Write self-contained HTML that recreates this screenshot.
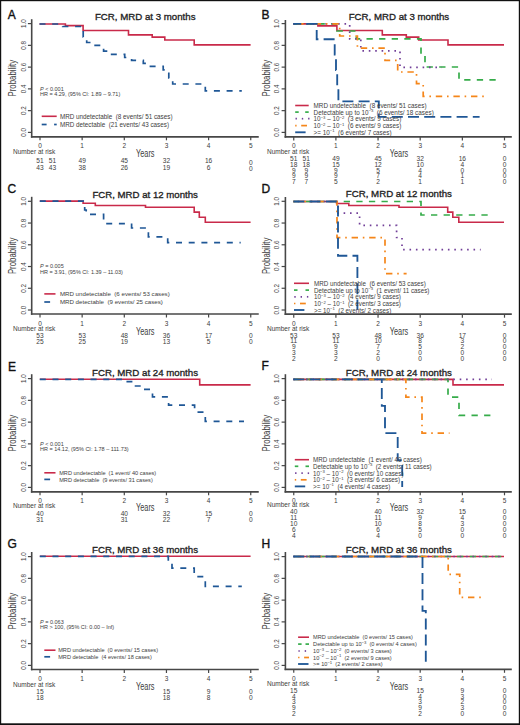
<!DOCTYPE html>
<html><head><meta charset="utf-8"><style>
html,body{margin:0;padding:0;background:#fff;}
svg{display:block;font-family:"Liberation Sans",sans-serif;}
</style></head><body>
<svg width="520" height="725" viewBox="0 0 520 725">
<rect x="0" y="0" width="520" height="725" fill="#fff"/>
<line x1="31.70" y1="19.20" x2="31.70" y2="137.60" stroke="#474747" stroke-width="1.6" />
<line x1="30.90" y1="136.80" x2="258.75" y2="136.80" stroke="#474747" stroke-width="1.7" />
<line x1="27.90" y1="23.60" x2="31.70" y2="23.60" stroke="#474747" stroke-width="1.2" />
<text x="23.40" y="23.60" font-size="6.3" text-anchor="middle" fill="#3d3d3d" transform="rotate(-90 23.40 23.60)" dy="2.2">1.0</text>
<line x1="27.90" y1="45.36" x2="31.70" y2="45.36" stroke="#474747" stroke-width="1.2" />
<text x="23.40" y="45.36" font-size="6.3" text-anchor="middle" fill="#3d3d3d" transform="rotate(-90 23.40 45.36)" dy="2.2">0.8</text>
<line x1="27.90" y1="67.12" x2="31.70" y2="67.12" stroke="#474747" stroke-width="1.2" />
<text x="23.40" y="67.12" font-size="6.3" text-anchor="middle" fill="#3d3d3d" transform="rotate(-90 23.40 67.12)" dy="2.2">0.6</text>
<line x1="27.90" y1="88.88" x2="31.70" y2="88.88" stroke="#474747" stroke-width="1.2" />
<text x="23.40" y="88.88" font-size="6.3" text-anchor="middle" fill="#3d3d3d" transform="rotate(-90 23.40 88.88)" dy="2.2">0.4</text>
<line x1="27.90" y1="110.64" x2="31.70" y2="110.64" stroke="#474747" stroke-width="1.2" />
<text x="23.40" y="110.64" font-size="6.3" text-anchor="middle" fill="#3d3d3d" transform="rotate(-90 23.40 110.64)" dy="2.2">0.2</text>
<line x1="27.90" y1="132.40" x2="31.70" y2="132.40" stroke="#474747" stroke-width="1.2" />
<text x="23.40" y="132.40" font-size="6.3" text-anchor="middle" fill="#3d3d3d" transform="rotate(-90 23.40 132.40)" dy="2.2">0.0</text>
<line x1="40.00" y1="136.80" x2="40.00" y2="140.30" stroke="#474747" stroke-width="1.2" />
<text x="40.00" y="148.14" font-size="6.5" text-anchor="middle" font-weight="normal" fill="#3d3d3d" >0</text>
<line x1="82.15" y1="136.80" x2="82.15" y2="140.30" stroke="#474747" stroke-width="1.2" />
<text x="82.15" y="148.14" font-size="6.5" text-anchor="middle" font-weight="normal" fill="#3d3d3d" >1</text>
<line x1="124.30" y1="136.80" x2="124.30" y2="140.30" stroke="#474747" stroke-width="1.2" />
<text x="124.30" y="148.14" font-size="6.5" text-anchor="middle" font-weight="normal" fill="#3d3d3d" >2</text>
<line x1="166.45" y1="136.80" x2="166.45" y2="140.30" stroke="#474747" stroke-width="1.2" />
<text x="166.45" y="148.14" font-size="6.5" text-anchor="middle" font-weight="normal" fill="#3d3d3d" >3</text>
<line x1="208.60" y1="136.80" x2="208.60" y2="140.30" stroke="#474747" stroke-width="1.2" />
<text x="208.60" y="148.14" font-size="6.5" text-anchor="middle" font-weight="normal" fill="#3d3d3d" >4</text>
<line x1="250.75" y1="136.80" x2="250.75" y2="140.30" stroke="#474747" stroke-width="1.2" />
<text x="250.75" y="148.14" font-size="6.5" text-anchor="middle" font-weight="normal" fill="#3d3d3d" >5</text>
<text x="12.50" y="78.20" font-size="10.5" text-anchor="middle" fill="#3d3d3d" transform="rotate(-90 12.50 78.20)" dy="3.6" textLength="36.5" lengthAdjust="spacingAndGlyphs">Probability</text>
<text x="7.70" y="18.88" font-size="12" text-anchor="start" font-weight="normal" fill="#111" stroke="#111" stroke-width="0.35">A</text>
<text x="94.90" y="19.87" font-size="9.8" font-weight="normal" fill="#222" stroke="#222" stroke-width="0.32" textLength="100.60" lengthAdjust="spacingAndGlyphs">FCR, MRD at 3 months</text>
<text x="145.25" y="157.15" font-size="10.5" text-anchor="middle" fill="#3d3d3d" textLength="18.5" lengthAdjust="spacingAndGlyphs">Years</text>
<text x="13.00" y="154.24" font-size="6.5" text-anchor="start" font-weight="normal" fill="#3d3d3d" >Number at risk</text>
<text x="40.00" y="163.17" font-size="6.6" text-anchor="middle" font-weight="normal" fill="#3d3d3d" >51</text>
<text x="52.52" y="163.17" font-size="6.6" text-anchor="middle" font-weight="normal" fill="#3d3d3d" >51</text>
<text x="82.15" y="163.17" font-size="6.6" text-anchor="middle" font-weight="normal" fill="#3d3d3d" >49</text>
<text x="124.30" y="163.17" font-size="6.6" text-anchor="middle" font-weight="normal" fill="#3d3d3d" >45</text>
<text x="166.45" y="163.17" font-size="6.6" text-anchor="middle" font-weight="normal" fill="#3d3d3d" >32</text>
<text x="208.60" y="163.17" font-size="6.6" text-anchor="middle" font-weight="normal" fill="#3d3d3d" >16</text>
<text x="250.75" y="164.97" font-size="6.6" text-anchor="middle" font-weight="normal" fill="#3d3d3d" >0</text>
<text x="40.00" y="169.67" font-size="6.6" text-anchor="middle" font-weight="normal" fill="#3d3d3d" >43</text>
<text x="52.52" y="169.67" font-size="6.6" text-anchor="middle" font-weight="normal" fill="#3d3d3d" >43</text>
<text x="82.15" y="169.67" font-size="6.6" text-anchor="middle" font-weight="normal" fill="#3d3d3d" >38</text>
<text x="124.30" y="169.67" font-size="6.6" text-anchor="middle" font-weight="normal" fill="#3d3d3d" >26</text>
<text x="166.45" y="169.67" font-size="6.6" text-anchor="middle" font-weight="normal" fill="#3d3d3d" >19</text>
<text x="208.60" y="169.67" font-size="6.6" text-anchor="middle" font-weight="normal" fill="#3d3d3d" >6</text>
<text x="250.75" y="171.47" font-size="6.6" text-anchor="middle" font-weight="normal" fill="#3d3d3d" >0</text>
<path d="M39.50,24.00 H65.40 V25.60 H83.10 V30.50 H128.50 V34.90 H152.20 V37.10 H164.80 V40.00 H194.20 V44.90 H250.60" fill="none" stroke="#c92a4a" stroke-width="1.6"/>
<path d="M39.50,24.00 H62.70 V26.50 H83.20 V37.00 H86.70 V42.50 H94.00 V45.40 H103.60 V51.10 H110.00 V54.30 H124.70 V57.50 H131.60 V60.40 H143.30 V63.30 H146.00 V66.30 H163.20 V69.90 H168.80 V78.00 H172.70 V84.00 H205.30 V90.90 H241.80" fill="none" stroke="#1f5796" stroke-width="1.7" stroke-dasharray="6 6.7" stroke-dashoffset="0"/>
<line x1="41.70" y1="116.30" x2="56.70" y2="116.30" stroke="#c92a4a" stroke-width="1.6" />
<text x="59.90" y="118.82" font-size="6.32" fill="#3d3d3d" xml:space="preserve">MRD undetectable  (8 events/ 51 cases)</text>
<line x1="41.70" y1="124.50" x2="46.60" y2="124.50" stroke="#1f5796" stroke-width="1.7" />
<line x1="54.10" y1="124.50" x2="56.70" y2="124.50" stroke="#1f5796" stroke-width="1.7" />
<text x="59.90" y="127.02" font-size="6.32" fill="#3d3d3d" xml:space="preserve">MRD detectable  (21 events/ 43 cases)</text>
<text x="40.00" y="90.89" font-size="5.5" fill="#3d3d3d"><tspan font-style="italic">P</tspan> &lt; 0.001</text>
<text x="40.00" y="96.09" font-size="5.5" text-anchor="start" font-weight="normal" fill="#3d3d3d" >HR = 4.29, (95% CI: 1.89 – 9.71)</text>
<line x1="285.40" y1="20.00" x2="285.40" y2="137.70" stroke="#474747" stroke-width="1.6" />
<line x1="284.60" y1="136.90" x2="511.80" y2="136.90" stroke="#474747" stroke-width="1.7" />
<line x1="281.60" y1="23.60" x2="285.40" y2="23.60" stroke="#474747" stroke-width="1.2" />
<text x="277.10" y="23.60" font-size="6.3" text-anchor="middle" fill="#3d3d3d" transform="rotate(-90 277.10 23.60)" dy="2.2">1.0</text>
<line x1="281.60" y1="45.36" x2="285.40" y2="45.36" stroke="#474747" stroke-width="1.2" />
<text x="277.10" y="45.36" font-size="6.3" text-anchor="middle" fill="#3d3d3d" transform="rotate(-90 277.10 45.36)" dy="2.2">0.8</text>
<line x1="281.60" y1="67.12" x2="285.40" y2="67.12" stroke="#474747" stroke-width="1.2" />
<text x="277.10" y="67.12" font-size="6.3" text-anchor="middle" fill="#3d3d3d" transform="rotate(-90 277.10 67.12)" dy="2.2">0.6</text>
<line x1="281.60" y1="88.88" x2="285.40" y2="88.88" stroke="#474747" stroke-width="1.2" />
<text x="277.10" y="88.88" font-size="6.3" text-anchor="middle" fill="#3d3d3d" transform="rotate(-90 277.10 88.88)" dy="2.2">0.4</text>
<line x1="281.60" y1="110.64" x2="285.40" y2="110.64" stroke="#474747" stroke-width="1.2" />
<text x="277.10" y="110.64" font-size="6.3" text-anchor="middle" fill="#3d3d3d" transform="rotate(-90 277.10 110.64)" dy="2.2">0.2</text>
<line x1="281.60" y1="132.40" x2="285.40" y2="132.40" stroke="#474747" stroke-width="1.2" />
<text x="277.10" y="132.40" font-size="6.3" text-anchor="middle" fill="#3d3d3d" transform="rotate(-90 277.10 132.40)" dy="2.2">0.0</text>
<line x1="293.75" y1="136.90" x2="293.75" y2="140.40" stroke="#474747" stroke-width="1.2" />
<text x="293.75" y="148.14" font-size="6.5" text-anchor="middle" font-weight="normal" fill="#3d3d3d" >0</text>
<line x1="335.90" y1="136.90" x2="335.90" y2="140.40" stroke="#474747" stroke-width="1.2" />
<text x="335.90" y="148.14" font-size="6.5" text-anchor="middle" font-weight="normal" fill="#3d3d3d" >1</text>
<line x1="378.05" y1="136.90" x2="378.05" y2="140.40" stroke="#474747" stroke-width="1.2" />
<text x="378.05" y="148.14" font-size="6.5" text-anchor="middle" font-weight="normal" fill="#3d3d3d" >2</text>
<line x1="420.20" y1="136.90" x2="420.20" y2="140.40" stroke="#474747" stroke-width="1.2" />
<text x="420.20" y="148.14" font-size="6.5" text-anchor="middle" font-weight="normal" fill="#3d3d3d" >3</text>
<line x1="462.35" y1="136.90" x2="462.35" y2="140.40" stroke="#474747" stroke-width="1.2" />
<text x="462.35" y="148.14" font-size="6.5" text-anchor="middle" font-weight="normal" fill="#3d3d3d" >4</text>
<line x1="504.50" y1="136.90" x2="504.50" y2="140.40" stroke="#474747" stroke-width="1.2" />
<text x="504.50" y="148.14" font-size="6.5" text-anchor="middle" font-weight="normal" fill="#3d3d3d" >5</text>
<text x="266.20" y="78.20" font-size="10.5" text-anchor="middle" fill="#3d3d3d" transform="rotate(-90 266.20 78.20)" dy="3.6" textLength="36.5" lengthAdjust="spacingAndGlyphs">Probability</text>
<text x="261.60" y="18.83" font-size="12" text-anchor="start" font-weight="normal" fill="#111" stroke="#111" stroke-width="0.35">B</text>
<text x="348.70" y="19.87" font-size="9.8" font-weight="normal" fill="#222" stroke="#222" stroke-width="0.32" textLength="100.50" lengthAdjust="spacingAndGlyphs">FCR, MRD at 3 months</text>
<text x="399.00" y="157.15" font-size="10.5" text-anchor="middle" fill="#3d3d3d" textLength="18.5" lengthAdjust="spacingAndGlyphs">Years</text>
<text x="267.00" y="154.24" font-size="6.5" text-anchor="start" font-weight="normal" fill="#3d3d3d" >Number at risk</text>
<text x="293.75" y="160.92" font-size="6.6" text-anchor="middle" font-weight="normal" fill="#3d3d3d" >51</text>
<text x="306.27" y="160.92" font-size="6.6" text-anchor="middle" font-weight="normal" fill="#3d3d3d" >51</text>
<text x="335.90" y="160.92" font-size="6.6" text-anchor="middle" font-weight="normal" fill="#3d3d3d" >49</text>
<text x="378.05" y="160.92" font-size="6.6" text-anchor="middle" font-weight="normal" fill="#3d3d3d" >45</text>
<text x="420.20" y="160.92" font-size="6.6" text-anchor="middle" font-weight="normal" fill="#3d3d3d" >32</text>
<text x="462.35" y="160.92" font-size="6.6" text-anchor="middle" font-weight="normal" fill="#3d3d3d" >16</text>
<text x="504.50" y="160.92" font-size="6.6" text-anchor="middle" font-weight="normal" fill="#3d3d3d" >0</text>
<text x="293.75" y="166.92" font-size="6.6" text-anchor="middle" font-weight="normal" fill="#3d3d3d" >18</text>
<text x="306.27" y="166.92" font-size="6.6" text-anchor="middle" font-weight="normal" fill="#3d3d3d" >18</text>
<text x="335.90" y="166.92" font-size="6.6" text-anchor="middle" font-weight="normal" fill="#3d3d3d" >15</text>
<text x="378.05" y="166.92" font-size="6.6" text-anchor="middle" font-weight="normal" fill="#3d3d3d" >12</text>
<text x="420.20" y="166.92" font-size="6.6" text-anchor="middle" font-weight="normal" fill="#3d3d3d" >10</text>
<text x="462.35" y="166.92" font-size="6.6" text-anchor="middle" font-weight="normal" fill="#3d3d3d" >4</text>
<text x="504.50" y="166.92" font-size="6.6" text-anchor="middle" font-weight="normal" fill="#3d3d3d" >0</text>
<text x="293.75" y="172.67" font-size="6.6" text-anchor="middle" font-weight="normal" fill="#3d3d3d" >9</text>
<text x="306.27" y="172.67" font-size="6.6" text-anchor="middle" font-weight="normal" fill="#3d3d3d" >9</text>
<text x="335.90" y="172.67" font-size="6.6" text-anchor="middle" font-weight="normal" fill="#3d3d3d" >9</text>
<text x="378.05" y="172.67" font-size="6.6" text-anchor="middle" font-weight="normal" fill="#3d3d3d" >5</text>
<text x="420.20" y="172.67" font-size="6.6" text-anchor="middle" font-weight="normal" fill="#3d3d3d" >4</text>
<text x="462.35" y="172.67" font-size="6.6" text-anchor="middle" font-weight="normal" fill="#3d3d3d" >0</text>
<text x="504.50" y="172.67" font-size="6.6" text-anchor="middle" font-weight="normal" fill="#3d3d3d" >0</text>
<text x="293.75" y="178.42" font-size="6.6" text-anchor="middle" font-weight="normal" fill="#3d3d3d" >9</text>
<text x="306.27" y="178.42" font-size="6.6" text-anchor="middle" font-weight="normal" fill="#3d3d3d" >9</text>
<text x="335.90" y="178.42" font-size="6.6" text-anchor="middle" font-weight="normal" fill="#3d3d3d" >9</text>
<text x="378.05" y="178.42" font-size="6.6" text-anchor="middle" font-weight="normal" fill="#3d3d3d" >7</text>
<text x="420.20" y="178.42" font-size="6.6" text-anchor="middle" font-weight="normal" fill="#3d3d3d" >4</text>
<text x="462.35" y="178.42" font-size="6.6" text-anchor="middle" font-weight="normal" fill="#3d3d3d" >1</text>
<text x="504.50" y="178.42" font-size="6.6" text-anchor="middle" font-weight="normal" fill="#3d3d3d" >0</text>
<text x="293.75" y="184.42" font-size="6.6" text-anchor="middle" font-weight="normal" fill="#3d3d3d" >7</text>
<text x="306.27" y="184.42" font-size="6.6" text-anchor="middle" font-weight="normal" fill="#3d3d3d" >7</text>
<text x="335.90" y="184.42" font-size="6.6" text-anchor="middle" font-weight="normal" fill="#3d3d3d" >5</text>
<text x="378.05" y="184.42" font-size="6.6" text-anchor="middle" font-weight="normal" fill="#3d3d3d" >2</text>
<text x="420.20" y="184.42" font-size="6.6" text-anchor="middle" font-weight="normal" fill="#3d3d3d" >1</text>
<text x="462.35" y="184.42" font-size="6.6" text-anchor="middle" font-weight="normal" fill="#3d3d3d" >1</text>
<text x="504.50" y="184.42" font-size="6.6" text-anchor="middle" font-weight="normal" fill="#3d3d3d" >0</text>
<path d="M293.30,23.90 H317.90 V25.90 H336.90 V30.50 H382.30 V34.90 H406.30 V37.10 H418.70 V40.00 H448.00 V44.90 H504.00" fill="none" stroke="#c92a4a" stroke-width="1.6"/>
<path d="M293.30,23.90 H337.00 V31.00 H356.30 V38.90 H421.00 V55.00 H425.00 V67.00 H459.00 V79.80 H495.70" fill="none" stroke="#36ac4a" stroke-width="1.7" stroke-dasharray="6.3 6.3" stroke-dashoffset="0"/>
<path d="M293.30,23.90 H349.70 V38.90 H360.80 V50.80 H400.00 V67.40 H442.00" fill="none" stroke="#713f98" stroke-width="1.7" stroke-dasharray="1.6 4.8" stroke-dashoffset="0"/>
<path d="M293.30,23.90 H339.70 V36.00 H357.40 V48.20 H385.00 V60.40 H397.70 V72.00 H416.50 V83.60 H423.20 V96.40 H484.00" fill="none" stroke="#f5861a" stroke-width="1.7" stroke-dasharray="1.6 4.8 6.4 4.8" stroke-dashoffset="2.6"/>
<path d="M293.30,23.90 H316.70 V39.20 H334.70 V54.50 H336.00 V70.00 H337.20 V85.60 H338.40 V101.40 H378.80 V116.80 H479.60" fill="none" stroke="#1f5796" stroke-width="1.85" stroke-dasharray="11 5.2" stroke-dashoffset="3.0"/>
<line x1="295.20" y1="105.50" x2="308.70" y2="105.50" stroke="#c92a4a" stroke-width="1.6" />
<text x="313.60" y="108.03" font-size="6.33" fill="#3d3d3d" xml:space="preserve">MRD undetectable  (8 events/ 51 cases)</text>
<line x1="295.20" y1="112.10" x2="298.70" y2="112.10" stroke="#36ac4a" stroke-width="1.7" />
<line x1="305.20" y1="112.10" x2="308.70" y2="112.10" stroke="#36ac4a" stroke-width="1.7" />
<text x="313.60" y="114.63" font-size="6.33" fill="#3d3d3d" xml:space="preserve">Detectable up to 10<tspan font-size="4.2" dy="-2.5">−3</tspan><tspan dy="2.5">  (6 events/ 18 cases)</tspan></text>
<line x1="295.50" y1="118.70" x2="296.90" y2="118.70" stroke="#713f98" stroke-width="1.7" />
<line x1="301.80" y1="118.70" x2="303.20" y2="118.70" stroke="#713f98" stroke-width="1.7" />
<line x1="308.10" y1="118.70" x2="309.50" y2="118.70" stroke="#713f98" stroke-width="1.7" />
<text x="313.60" y="121.23" font-size="6.33" fill="#3d3d3d" xml:space="preserve">10<tspan font-size="4.2" dy="-2.5">−3</tspan><tspan dy="2.5"> – </tspan>10<tspan font-size="4.2" dy="-2.5">−2</tspan><tspan dy="2.5">  (3 events/ 9 cases)</tspan></text>
<line x1="295.20" y1="125.60" x2="296.60" y2="125.60" stroke="#f5861a" stroke-width="1.7" />
<line x1="301.20" y1="125.60" x2="307.00" y2="125.60" stroke="#f5861a" stroke-width="1.7" />
<text x="313.60" y="128.13" font-size="6.33" fill="#3d3d3d" xml:space="preserve">10<tspan font-size="4.2" dy="-2.5">−2</tspan><tspan dy="2.5"> – </tspan>10<tspan font-size="4.2" dy="-2.5">−1</tspan><tspan dy="2.5">  (6 events/ 9 cases)</tspan></text>
<line x1="295.20" y1="132.30" x2="305.60" y2="132.30" stroke="#1f5796" stroke-width="1.85" />
<text x="313.60" y="134.83" font-size="6.33" fill="#3d3d3d" xml:space="preserve">&gt;= 10<tspan font-size="4.2" dy="-2.5">−1</tspan><tspan dy="2.5">  (6 events/ 7 cases)</tspan></text>
<line x1="31.70" y1="196.80" x2="31.70" y2="314.80" stroke="#474747" stroke-width="1.6" />
<line x1="30.90" y1="314.00" x2="258.75" y2="314.00" stroke="#474747" stroke-width="1.7" />
<line x1="27.90" y1="201.30" x2="31.70" y2="201.30" stroke="#474747" stroke-width="1.2" />
<text x="23.40" y="201.30" font-size="6.3" text-anchor="middle" fill="#3d3d3d" transform="rotate(-90 23.40 201.30)" dy="2.2">1.0</text>
<line x1="27.90" y1="223.04" x2="31.70" y2="223.04" stroke="#474747" stroke-width="1.2" />
<text x="23.40" y="223.04" font-size="6.3" text-anchor="middle" fill="#3d3d3d" transform="rotate(-90 23.40 223.04)" dy="2.2">0.8</text>
<line x1="27.90" y1="244.78" x2="31.70" y2="244.78" stroke="#474747" stroke-width="1.2" />
<text x="23.40" y="244.78" font-size="6.3" text-anchor="middle" fill="#3d3d3d" transform="rotate(-90 23.40 244.78)" dy="2.2">0.6</text>
<line x1="27.90" y1="266.52" x2="31.70" y2="266.52" stroke="#474747" stroke-width="1.2" />
<text x="23.40" y="266.52" font-size="6.3" text-anchor="middle" fill="#3d3d3d" transform="rotate(-90 23.40 266.52)" dy="2.2">0.4</text>
<line x1="27.90" y1="288.26" x2="31.70" y2="288.26" stroke="#474747" stroke-width="1.2" />
<text x="23.40" y="288.26" font-size="6.3" text-anchor="middle" fill="#3d3d3d" transform="rotate(-90 23.40 288.26)" dy="2.2">0.2</text>
<line x1="27.90" y1="310.00" x2="31.70" y2="310.00" stroke="#474747" stroke-width="1.2" />
<text x="23.40" y="310.00" font-size="6.3" text-anchor="middle" fill="#3d3d3d" transform="rotate(-90 23.40 310.00)" dy="2.2">0.0</text>
<line x1="40.00" y1="314.00" x2="40.00" y2="317.50" stroke="#474747" stroke-width="1.2" />
<text x="40.00" y="325.64" font-size="6.5" text-anchor="middle" font-weight="normal" fill="#3d3d3d" >0</text>
<line x1="82.15" y1="314.00" x2="82.15" y2="317.50" stroke="#474747" stroke-width="1.2" />
<text x="82.15" y="325.64" font-size="6.5" text-anchor="middle" font-weight="normal" fill="#3d3d3d" >1</text>
<line x1="124.30" y1="314.00" x2="124.30" y2="317.50" stroke="#474747" stroke-width="1.2" />
<text x="124.30" y="325.64" font-size="6.5" text-anchor="middle" font-weight="normal" fill="#3d3d3d" >2</text>
<line x1="166.45" y1="314.00" x2="166.45" y2="317.50" stroke="#474747" stroke-width="1.2" />
<text x="166.45" y="325.64" font-size="6.5" text-anchor="middle" font-weight="normal" fill="#3d3d3d" >3</text>
<line x1="208.60" y1="314.00" x2="208.60" y2="317.50" stroke="#474747" stroke-width="1.2" />
<text x="208.60" y="325.64" font-size="6.5" text-anchor="middle" font-weight="normal" fill="#3d3d3d" >4</text>
<line x1="250.75" y1="314.00" x2="250.75" y2="317.50" stroke="#474747" stroke-width="1.2" />
<text x="250.75" y="325.64" font-size="6.5" text-anchor="middle" font-weight="normal" fill="#3d3d3d" >5</text>
<text x="12.50" y="255.85" font-size="10.5" text-anchor="middle" fill="#3d3d3d" transform="rotate(-90 12.50 255.85)" dy="3.6" textLength="36.5" lengthAdjust="spacingAndGlyphs">Probability</text>
<text x="7.60" y="193.13" font-size="12" text-anchor="start" font-weight="normal" fill="#111" stroke="#111" stroke-width="0.35">C</text>
<text x="92.40" y="198.37" font-size="9.8" font-weight="normal" fill="#222" stroke="#222" stroke-width="0.32" textLength="105.50" lengthAdjust="spacingAndGlyphs">FCR, MRD at 12 months</text>
<text x="145.25" y="335.40" font-size="10.5" text-anchor="middle" fill="#3d3d3d" textLength="18.5" lengthAdjust="spacingAndGlyphs">Years</text>
<text x="13.00" y="330.99" font-size="6.5" text-anchor="start" font-weight="normal" fill="#3d3d3d" >Number at risk</text>
<text x="40.00" y="337.67" font-size="6.6" text-anchor="middle" font-weight="normal" fill="#3d3d3d" >53</text>
<text x="82.15" y="337.67" font-size="6.6" text-anchor="middle" font-weight="normal" fill="#3d3d3d" >53</text>
<text x="124.30" y="337.67" font-size="6.6" text-anchor="middle" font-weight="normal" fill="#3d3d3d" >48</text>
<text x="166.45" y="337.67" font-size="6.6" text-anchor="middle" font-weight="normal" fill="#3d3d3d" >36</text>
<text x="208.60" y="337.67" font-size="6.6" text-anchor="middle" font-weight="normal" fill="#3d3d3d" >17</text>
<text x="250.75" y="337.67" font-size="6.6" text-anchor="middle" font-weight="normal" fill="#3d3d3d" >0</text>
<text x="40.00" y="344.42" font-size="6.6" text-anchor="middle" font-weight="normal" fill="#3d3d3d" >25</text>
<text x="82.15" y="344.42" font-size="6.6" text-anchor="middle" font-weight="normal" fill="#3d3d3d" >25</text>
<text x="124.30" y="344.42" font-size="6.6" text-anchor="middle" font-weight="normal" fill="#3d3d3d" >19</text>
<text x="166.45" y="344.42" font-size="6.6" text-anchor="middle" font-weight="normal" fill="#3d3d3d" >13</text>
<text x="208.60" y="344.42" font-size="6.6" text-anchor="middle" font-weight="normal" fill="#3d3d3d" >5</text>
<text x="250.75" y="344.42" font-size="6.6" text-anchor="middle" font-weight="normal" fill="#3d3d3d" >0</text>
<path d="M39.80,201.10 H83.10 V203.30 H95.30 V205.50 H145.50 V207.30 H194.20 V212.10 H199.30 V217.20 H205.30 V222.30 H250.60" fill="none" stroke="#c92a4a" stroke-width="1.6"/>
<path d="M39.80,201.10 H83.20 V205.60 H84.70 V210.00 H86.20 V214.40 H103.60 V223.60 H131.60 V228.00 H148.40 V236.90 H167.70 V242.70 H240.70" fill="none" stroke="#1f5796" stroke-width="1.7" stroke-dasharray="6 6.7" stroke-dashoffset="0"/>
<line x1="44.30" y1="293.90" x2="55.50" y2="293.90" stroke="#c92a4a" stroke-width="1.6" />
<text x="59.90" y="296.37" font-size="6.16" fill="#3d3d3d" xml:space="preserve">MRD undetectable  (6 events/ 53 cases)</text>
<line x1="44.30" y1="302.00" x2="50.10" y2="302.00" stroke="#1f5796" stroke-width="1.7" />
<text x="59.90" y="304.47" font-size="6.16" fill="#3d3d3d" xml:space="preserve">MRD detectable  (9 events/ 25 cases)</text>
<text x="40.00" y="268.19" font-size="5.5" fill="#3d3d3d"><tspan font-style="italic">P</tspan> = 0.005</text>
<text x="40.00" y="273.79" font-size="5.5" text-anchor="start" font-weight="normal" fill="#3d3d3d" >HR = 3.91, (95% CI: 1.39 – 11.03)</text>
<line x1="285.40" y1="197.00" x2="285.40" y2="315.00" stroke="#474747" stroke-width="1.6" />
<line x1="284.60" y1="314.20" x2="511.80" y2="314.20" stroke="#474747" stroke-width="1.7" />
<line x1="281.60" y1="201.30" x2="285.40" y2="201.30" stroke="#474747" stroke-width="1.2" />
<text x="277.10" y="201.30" font-size="6.3" text-anchor="middle" fill="#3d3d3d" transform="rotate(-90 277.10 201.30)" dy="2.2">1.0</text>
<line x1="281.60" y1="223.04" x2="285.40" y2="223.04" stroke="#474747" stroke-width="1.2" />
<text x="277.10" y="223.04" font-size="6.3" text-anchor="middle" fill="#3d3d3d" transform="rotate(-90 277.10 223.04)" dy="2.2">0.8</text>
<line x1="281.60" y1="244.78" x2="285.40" y2="244.78" stroke="#474747" stroke-width="1.2" />
<text x="277.10" y="244.78" font-size="6.3" text-anchor="middle" fill="#3d3d3d" transform="rotate(-90 277.10 244.78)" dy="2.2">0.6</text>
<line x1="281.60" y1="266.52" x2="285.40" y2="266.52" stroke="#474747" stroke-width="1.2" />
<text x="277.10" y="266.52" font-size="6.3" text-anchor="middle" fill="#3d3d3d" transform="rotate(-90 277.10 266.52)" dy="2.2">0.4</text>
<line x1="281.60" y1="288.26" x2="285.40" y2="288.26" stroke="#474747" stroke-width="1.2" />
<text x="277.10" y="288.26" font-size="6.3" text-anchor="middle" fill="#3d3d3d" transform="rotate(-90 277.10 288.26)" dy="2.2">0.2</text>
<line x1="281.60" y1="310.00" x2="285.40" y2="310.00" stroke="#474747" stroke-width="1.2" />
<text x="277.10" y="310.00" font-size="6.3" text-anchor="middle" fill="#3d3d3d" transform="rotate(-90 277.10 310.00)" dy="2.2">0.0</text>
<line x1="293.75" y1="314.20" x2="293.75" y2="317.70" stroke="#474747" stroke-width="1.2" />
<text x="293.75" y="325.64" font-size="6.5" text-anchor="middle" font-weight="normal" fill="#3d3d3d" >0</text>
<line x1="335.90" y1="314.20" x2="335.90" y2="317.70" stroke="#474747" stroke-width="1.2" />
<text x="335.90" y="325.64" font-size="6.5" text-anchor="middle" font-weight="normal" fill="#3d3d3d" >1</text>
<line x1="378.05" y1="314.20" x2="378.05" y2="317.70" stroke="#474747" stroke-width="1.2" />
<text x="378.05" y="325.64" font-size="6.5" text-anchor="middle" font-weight="normal" fill="#3d3d3d" >2</text>
<line x1="420.20" y1="314.20" x2="420.20" y2="317.70" stroke="#474747" stroke-width="1.2" />
<text x="420.20" y="325.64" font-size="6.5" text-anchor="middle" font-weight="normal" fill="#3d3d3d" >3</text>
<line x1="462.35" y1="314.20" x2="462.35" y2="317.70" stroke="#474747" stroke-width="1.2" />
<text x="462.35" y="325.64" font-size="6.5" text-anchor="middle" font-weight="normal" fill="#3d3d3d" >4</text>
<line x1="504.50" y1="314.20" x2="504.50" y2="317.70" stroke="#474747" stroke-width="1.2" />
<text x="504.50" y="325.64" font-size="6.5" text-anchor="middle" font-weight="normal" fill="#3d3d3d" >5</text>
<text x="266.20" y="255.85" font-size="10.5" text-anchor="middle" fill="#3d3d3d" transform="rotate(-90 266.20 255.85)" dy="3.6" textLength="36.5" lengthAdjust="spacingAndGlyphs">Probability</text>
<text x="261.60" y="193.43" font-size="12" text-anchor="start" font-weight="normal" fill="#111" stroke="#111" stroke-width="0.35">D</text>
<text x="345.80" y="196.87" font-size="9.8" font-weight="normal" fill="#222" stroke="#222" stroke-width="0.32" textLength="106.10" lengthAdjust="spacingAndGlyphs">FCR, MRD at 12 months</text>
<text x="399.00" y="334.65" font-size="10.5" text-anchor="middle" fill="#3d3d3d" textLength="18.5" lengthAdjust="spacingAndGlyphs">Years</text>
<text x="267.00" y="330.99" font-size="6.5" text-anchor="start" font-weight="normal" fill="#3d3d3d" >Number at risk</text>
<text x="293.75" y="337.67" font-size="6.6" text-anchor="middle" font-weight="normal" fill="#3d3d3d" >53</text>
<text x="335.90" y="337.67" font-size="6.6" text-anchor="middle" font-weight="normal" fill="#3d3d3d" >53</text>
<text x="378.05" y="337.67" font-size="6.6" text-anchor="middle" font-weight="normal" fill="#3d3d3d" >48</text>
<text x="420.20" y="337.67" font-size="6.6" text-anchor="middle" font-weight="normal" fill="#3d3d3d" >36</text>
<text x="462.35" y="337.67" font-size="6.6" text-anchor="middle" font-weight="normal" fill="#3d3d3d" >17</text>
<text x="504.50" y="337.67" font-size="6.6" text-anchor="middle" font-weight="normal" fill="#3d3d3d" >0</text>
<text x="293.75" y="343.17" font-size="6.6" text-anchor="middle" font-weight="normal" fill="#3d3d3d" >11</text>
<text x="335.90" y="343.17" font-size="6.6" text-anchor="middle" font-weight="normal" fill="#3d3d3d" >11</text>
<text x="378.05" y="343.17" font-size="6.6" text-anchor="middle" font-weight="normal" fill="#3d3d3d" >10</text>
<text x="420.20" y="343.17" font-size="6.6" text-anchor="middle" font-weight="normal" fill="#3d3d3d" >8</text>
<text x="462.35" y="343.17" font-size="6.6" text-anchor="middle" font-weight="normal" fill="#3d3d3d" >3</text>
<text x="504.50" y="343.17" font-size="6.6" text-anchor="middle" font-weight="normal" fill="#3d3d3d" >0</text>
<text x="293.75" y="348.92" font-size="6.6" text-anchor="middle" font-weight="normal" fill="#3d3d3d" >9</text>
<text x="335.90" y="348.92" font-size="6.6" text-anchor="middle" font-weight="normal" fill="#3d3d3d" >9</text>
<text x="378.05" y="348.92" font-size="6.6" text-anchor="middle" font-weight="normal" fill="#3d3d3d" >7</text>
<text x="420.20" y="348.92" font-size="6.6" text-anchor="middle" font-weight="normal" fill="#3d3d3d" >5</text>
<text x="462.35" y="348.92" font-size="6.6" text-anchor="middle" font-weight="normal" fill="#3d3d3d" >2</text>
<text x="504.50" y="348.92" font-size="6.6" text-anchor="middle" font-weight="normal" fill="#3d3d3d" >0</text>
<text x="293.75" y="354.67" font-size="6.6" text-anchor="middle" font-weight="normal" fill="#3d3d3d" >3</text>
<text x="335.90" y="354.67" font-size="6.6" text-anchor="middle" font-weight="normal" fill="#3d3d3d" >3</text>
<text x="378.05" y="354.67" font-size="6.6" text-anchor="middle" font-weight="normal" fill="#3d3d3d" >2</text>
<text x="420.20" y="354.67" font-size="6.6" text-anchor="middle" font-weight="normal" fill="#3d3d3d" >0</text>
<text x="462.35" y="354.67" font-size="6.6" text-anchor="middle" font-weight="normal" fill="#3d3d3d" >0</text>
<text x="504.50" y="354.67" font-size="6.6" text-anchor="middle" font-weight="normal" fill="#3d3d3d" >0</text>
<text x="293.75" y="360.67" font-size="6.6" text-anchor="middle" font-weight="normal" fill="#3d3d3d" >2</text>
<text x="335.90" y="360.67" font-size="6.6" text-anchor="middle" font-weight="normal" fill="#3d3d3d" >2</text>
<text x="378.05" y="360.67" font-size="6.6" text-anchor="middle" font-weight="normal" fill="#3d3d3d" >0</text>
<text x="420.20" y="360.67" font-size="6.6" text-anchor="middle" font-weight="normal" fill="#3d3d3d" >0</text>
<text x="462.35" y="360.67" font-size="6.6" text-anchor="middle" font-weight="normal" fill="#3d3d3d" >0</text>
<text x="504.50" y="360.67" font-size="6.6" text-anchor="middle" font-weight="normal" fill="#3d3d3d" >0</text>
<path d="M293.30,201.50 H336.60 V203.50 H348.80 V205.50 H399.00 V207.30 H447.70 V212.10 H452.80 V217.20 H458.80 V222.30 H504.00" fill="none" stroke="#c92a4a" stroke-width="1.6"/>
<path d="M293.30,201.50 H421.00 V215.00 H488.50" fill="none" stroke="#36ac4a" stroke-width="1.7" stroke-dasharray="6.3 6.3" stroke-dashoffset="0"/>
<path d="M293.30,201.50 H338.00 V213.20 H359.60 V225.40 H396.60 V237.50 H402.00 V249.70 H480.70" fill="none" stroke="#713f98" stroke-width="1.7" stroke-dasharray="1.6 4.8" stroke-dashoffset="2.0"/>
<path d="M293.30,201.50 H337.00 V237.60 H385.00 V273.60 H406.60" fill="none" stroke="#f5861a" stroke-width="1.7" stroke-dasharray="1.6 4.8 6.4 4.8" stroke-dashoffset="0"/>
<path d="M293.30,201.50 H338.00 V255.70 H357.40 V309.80" fill="none" stroke="#1f5796" stroke-width="1.85" stroke-dasharray="11 5.2" stroke-dashoffset="0"/>
<line x1="294.00" y1="283.30" x2="309.00" y2="283.30" stroke="#c92a4a" stroke-width="1.6" />
<text x="314.00" y="285.81" font-size="6.28" fill="#3d3d3d" xml:space="preserve">MRD undetectable  (6 events/ 53 cases)</text>
<line x1="294.00" y1="290.10" x2="297.50" y2="290.10" stroke="#36ac4a" stroke-width="1.7" />
<line x1="305.50" y1="290.10" x2="309.00" y2="290.10" stroke="#36ac4a" stroke-width="1.7" />
<text x="314.00" y="292.61" font-size="6.28" fill="#3d3d3d" xml:space="preserve">Detectable up to 10<tspan font-size="4.2" dy="-2.5">−3</tspan><tspan dy="2.5">  (1 event/ 11 cases)</tspan></text>
<line x1="294.30" y1="296.80" x2="295.70" y2="296.80" stroke="#713f98" stroke-width="1.7" />
<line x1="300.60" y1="296.80" x2="302.00" y2="296.80" stroke="#713f98" stroke-width="1.7" />
<line x1="306.90" y1="296.80" x2="308.30" y2="296.80" stroke="#713f98" stroke-width="1.7" />
<text x="314.00" y="299.31" font-size="6.28" fill="#3d3d3d" xml:space="preserve">10<tspan font-size="4.2" dy="-2.5">−3</tspan><tspan dy="2.5"> – </tspan>10<tspan font-size="4.2" dy="-2.5">−2</tspan><tspan dy="2.5">  (4 events/ 9 cases)</tspan></text>
<line x1="294.00" y1="303.50" x2="295.40" y2="303.50" stroke="#f5861a" stroke-width="1.7" />
<line x1="300.00" y1="303.50" x2="305.80" y2="303.50" stroke="#f5861a" stroke-width="1.7" />
<text x="314.00" y="306.01" font-size="6.28" fill="#3d3d3d" xml:space="preserve">10<tspan font-size="4.2" dy="-2.5">−2</tspan><tspan dy="2.5"> – </tspan>10<tspan font-size="4.2" dy="-2.5">−1</tspan><tspan dy="2.5">  (2 events/ 3 cases)</tspan></text>
<line x1="294.00" y1="310.00" x2="304.40" y2="310.00" stroke="#1f5796" stroke-width="1.85" />
<text x="314.00" y="312.51" font-size="6.28" fill="#3d3d3d" xml:space="preserve">&gt;= 10<tspan font-size="4.2" dy="-2.5">−1</tspan><tspan dy="2.5">  (2 events/ 2 cases)</tspan></text>
<line x1="31.70" y1="374.20" x2="31.70" y2="492.60" stroke="#474747" stroke-width="1.6" />
<line x1="30.90" y1="491.80" x2="258.75" y2="491.80" stroke="#474747" stroke-width="1.7" />
<line x1="27.90" y1="378.60" x2="31.70" y2="378.60" stroke="#474747" stroke-width="1.2" />
<text x="23.40" y="378.60" font-size="6.3" text-anchor="middle" fill="#3d3d3d" transform="rotate(-90 23.40 378.60)" dy="2.2">1.0</text>
<line x1="27.90" y1="400.36" x2="31.70" y2="400.36" stroke="#474747" stroke-width="1.2" />
<text x="23.40" y="400.36" font-size="6.3" text-anchor="middle" fill="#3d3d3d" transform="rotate(-90 23.40 400.36)" dy="2.2">0.8</text>
<line x1="27.90" y1="422.12" x2="31.70" y2="422.12" stroke="#474747" stroke-width="1.2" />
<text x="23.40" y="422.12" font-size="6.3" text-anchor="middle" fill="#3d3d3d" transform="rotate(-90 23.40 422.12)" dy="2.2">0.6</text>
<line x1="27.90" y1="443.88" x2="31.70" y2="443.88" stroke="#474747" stroke-width="1.2" />
<text x="23.40" y="443.88" font-size="6.3" text-anchor="middle" fill="#3d3d3d" transform="rotate(-90 23.40 443.88)" dy="2.2">0.4</text>
<line x1="27.90" y1="465.64" x2="31.70" y2="465.64" stroke="#474747" stroke-width="1.2" />
<text x="23.40" y="465.64" font-size="6.3" text-anchor="middle" fill="#3d3d3d" transform="rotate(-90 23.40 465.64)" dy="2.2">0.2</text>
<line x1="27.90" y1="487.40" x2="31.70" y2="487.40" stroke="#474747" stroke-width="1.2" />
<text x="23.40" y="487.40" font-size="6.3" text-anchor="middle" fill="#3d3d3d" transform="rotate(-90 23.40 487.40)" dy="2.2">0.0</text>
<line x1="40.00" y1="491.80" x2="40.00" y2="495.30" stroke="#474747" stroke-width="1.2" />
<text x="40.00" y="502.64" font-size="6.5" text-anchor="middle" font-weight="normal" fill="#3d3d3d" >0</text>
<line x1="82.15" y1="491.80" x2="82.15" y2="495.30" stroke="#474747" stroke-width="1.2" />
<text x="82.15" y="502.64" font-size="6.5" text-anchor="middle" font-weight="normal" fill="#3d3d3d" >1</text>
<line x1="124.30" y1="491.80" x2="124.30" y2="495.30" stroke="#474747" stroke-width="1.2" />
<text x="124.30" y="502.64" font-size="6.5" text-anchor="middle" font-weight="normal" fill="#3d3d3d" >2</text>
<line x1="166.45" y1="491.80" x2="166.45" y2="495.30" stroke="#474747" stroke-width="1.2" />
<text x="166.45" y="502.64" font-size="6.5" text-anchor="middle" font-weight="normal" fill="#3d3d3d" >3</text>
<line x1="208.60" y1="491.80" x2="208.60" y2="495.30" stroke="#474747" stroke-width="1.2" />
<text x="208.60" y="502.64" font-size="6.5" text-anchor="middle" font-weight="normal" fill="#3d3d3d" >4</text>
<line x1="250.75" y1="491.80" x2="250.75" y2="495.30" stroke="#474747" stroke-width="1.2" />
<text x="250.75" y="502.64" font-size="6.5" text-anchor="middle" font-weight="normal" fill="#3d3d3d" >5</text>
<text x="12.50" y="433.20" font-size="10.5" text-anchor="middle" fill="#3d3d3d" transform="rotate(-90 12.50 433.20)" dy="3.6" textLength="36.5" lengthAdjust="spacingAndGlyphs">Probability</text>
<text x="7.90" y="370.63" font-size="12" text-anchor="start" font-weight="normal" fill="#111" stroke="#111" stroke-width="0.35">E</text>
<text x="92.00" y="375.57" font-size="9.8" font-weight="normal" fill="#222" stroke="#222" stroke-width="0.32" textLength="106.00" lengthAdjust="spacingAndGlyphs">FCR, MRD at 24 months</text>
<text x="145.25" y="510.90" font-size="10.5" text-anchor="middle" fill="#3d3d3d" textLength="18.5" lengthAdjust="spacingAndGlyphs">Years</text>
<text x="13.00" y="508.49" font-size="6.5" text-anchor="start" font-weight="normal" fill="#3d3d3d" >Number at risk</text>
<text x="40.00" y="515.92" font-size="6.6" text-anchor="middle" font-weight="normal" fill="#3d3d3d" >40</text>
<text x="124.30" y="515.92" font-size="6.6" text-anchor="middle" font-weight="normal" fill="#3d3d3d" >40</text>
<text x="166.45" y="515.92" font-size="6.6" text-anchor="middle" font-weight="normal" fill="#3d3d3d" >32</text>
<text x="208.60" y="515.92" font-size="6.6" text-anchor="middle" font-weight="normal" fill="#3d3d3d" >15</text>
<text x="250.75" y="515.92" font-size="6.6" text-anchor="middle" font-weight="normal" fill="#3d3d3d" >0</text>
<text x="40.00" y="522.42" font-size="6.6" text-anchor="middle" font-weight="normal" fill="#3d3d3d" >31</text>
<text x="124.30" y="522.42" font-size="6.6" text-anchor="middle" font-weight="normal" fill="#3d3d3d" >31</text>
<text x="166.45" y="522.42" font-size="6.6" text-anchor="middle" font-weight="normal" fill="#3d3d3d" >22</text>
<text x="208.60" y="522.42" font-size="6.6" text-anchor="middle" font-weight="normal" fill="#3d3d3d" >7</text>
<text x="250.75" y="522.42" font-size="6.6" text-anchor="middle" font-weight="normal" fill="#3d3d3d" >0</text>
<path d="M39.80,379.30 H199.70 V384.90 H250.60" fill="none" stroke="#c92a4a" stroke-width="1.6"/>
<path d="M39.80,379.30 H127.30 V381.60 H134.00 V386.00 H144.00 V389.40 H152.50 V396.90 H168.60 V405.20 H194.60 V412.10 H205.30 V421.40 H244.00" fill="none" stroke="#1f5796" stroke-width="1.7" stroke-dasharray="6 6.7" stroke-dashoffset="0"/>
<line x1="44.30" y1="472.80" x2="55.50" y2="472.80" stroke="#c92a4a" stroke-width="1.6" />
<text x="59.20" y="475.08" font-size="5.6" fill="#3d3d3d" xml:space="preserve">MRD undetectable  (1 event/ 40 cases)</text>
<line x1="44.30" y1="479.40" x2="50.10" y2="479.40" stroke="#1f5796" stroke-width="1.7" />
<text x="59.20" y="481.68" font-size="5.6" fill="#3d3d3d" xml:space="preserve">MRD detectable  (9 events/ 31 cases)</text>
<text x="40.00" y="445.59" font-size="5.5" fill="#3d3d3d"><tspan font-style="italic">P</tspan> &lt; 0.001</text>
<text x="40.00" y="450.99" font-size="5.5" text-anchor="start" font-weight="normal" fill="#3d3d3d" >HR = 14.12, (95% CI: 1.78 – 111.73)</text>
<line x1="285.40" y1="374.20" x2="285.40" y2="492.60" stroke="#474747" stroke-width="1.6" />
<line x1="284.60" y1="491.80" x2="511.80" y2="491.80" stroke="#474747" stroke-width="1.7" />
<line x1="281.60" y1="378.60" x2="285.40" y2="378.60" stroke="#474747" stroke-width="1.2" />
<text x="277.10" y="378.60" font-size="6.3" text-anchor="middle" fill="#3d3d3d" transform="rotate(-90 277.10 378.60)" dy="2.2">1.0</text>
<line x1="281.60" y1="400.36" x2="285.40" y2="400.36" stroke="#474747" stroke-width="1.2" />
<text x="277.10" y="400.36" font-size="6.3" text-anchor="middle" fill="#3d3d3d" transform="rotate(-90 277.10 400.36)" dy="2.2">0.8</text>
<line x1="281.60" y1="422.12" x2="285.40" y2="422.12" stroke="#474747" stroke-width="1.2" />
<text x="277.10" y="422.12" font-size="6.3" text-anchor="middle" fill="#3d3d3d" transform="rotate(-90 277.10 422.12)" dy="2.2">0.6</text>
<line x1="281.60" y1="443.88" x2="285.40" y2="443.88" stroke="#474747" stroke-width="1.2" />
<text x="277.10" y="443.88" font-size="6.3" text-anchor="middle" fill="#3d3d3d" transform="rotate(-90 277.10 443.88)" dy="2.2">0.4</text>
<line x1="281.60" y1="465.64" x2="285.40" y2="465.64" stroke="#474747" stroke-width="1.2" />
<text x="277.10" y="465.64" font-size="6.3" text-anchor="middle" fill="#3d3d3d" transform="rotate(-90 277.10 465.64)" dy="2.2">0.2</text>
<line x1="281.60" y1="487.40" x2="285.40" y2="487.40" stroke="#474747" stroke-width="1.2" />
<text x="277.10" y="487.40" font-size="6.3" text-anchor="middle" fill="#3d3d3d" transform="rotate(-90 277.10 487.40)" dy="2.2">0.0</text>
<line x1="293.75" y1="491.80" x2="293.75" y2="495.30" stroke="#474747" stroke-width="1.2" />
<text x="293.75" y="502.64" font-size="6.5" text-anchor="middle" font-weight="normal" fill="#3d3d3d" >0</text>
<line x1="335.90" y1="491.80" x2="335.90" y2="495.30" stroke="#474747" stroke-width="1.2" />
<text x="335.90" y="502.64" font-size="6.5" text-anchor="middle" font-weight="normal" fill="#3d3d3d" >1</text>
<line x1="378.05" y1="491.80" x2="378.05" y2="495.30" stroke="#474747" stroke-width="1.2" />
<text x="378.05" y="502.64" font-size="6.5" text-anchor="middle" font-weight="normal" fill="#3d3d3d" >2</text>
<line x1="420.20" y1="491.80" x2="420.20" y2="495.30" stroke="#474747" stroke-width="1.2" />
<text x="420.20" y="502.64" font-size="6.5" text-anchor="middle" font-weight="normal" fill="#3d3d3d" >3</text>
<line x1="462.35" y1="491.80" x2="462.35" y2="495.30" stroke="#474747" stroke-width="1.2" />
<text x="462.35" y="502.64" font-size="6.5" text-anchor="middle" font-weight="normal" fill="#3d3d3d" >4</text>
<line x1="504.50" y1="491.80" x2="504.50" y2="495.30" stroke="#474747" stroke-width="1.2" />
<text x="504.50" y="502.64" font-size="6.5" text-anchor="middle" font-weight="normal" fill="#3d3d3d" >5</text>
<text x="266.20" y="433.20" font-size="10.5" text-anchor="middle" fill="#3d3d3d" transform="rotate(-90 266.20 433.20)" dy="3.6" textLength="36.5" lengthAdjust="spacingAndGlyphs">Probability</text>
<text x="261.40" y="370.43" font-size="12" text-anchor="start" font-weight="normal" fill="#111" stroke="#111" stroke-width="0.35">F</text>
<text x="345.80" y="375.57" font-size="9.8" font-weight="normal" fill="#222" stroke="#222" stroke-width="0.32" textLength="106.10" lengthAdjust="spacingAndGlyphs">FCR, MRD at 24 months</text>
<text x="399.00" y="510.90" font-size="10.5" text-anchor="middle" fill="#3d3d3d" textLength="18.5" lengthAdjust="spacingAndGlyphs">Years</text>
<text x="267.00" y="507.24" font-size="6.5" text-anchor="start" font-weight="normal" fill="#3d3d3d" >Number at risk</text>
<text x="293.75" y="514.42" font-size="6.6" text-anchor="middle" font-weight="normal" fill="#3d3d3d" >40</text>
<text x="378.05" y="514.42" font-size="6.6" text-anchor="middle" font-weight="normal" fill="#3d3d3d" >40</text>
<text x="420.20" y="514.42" font-size="6.6" text-anchor="middle" font-weight="normal" fill="#3d3d3d" >32</text>
<text x="462.35" y="514.42" font-size="6.6" text-anchor="middle" font-weight="normal" fill="#3d3d3d" >15</text>
<text x="504.50" y="514.42" font-size="6.6" text-anchor="middle" font-weight="normal" fill="#3d3d3d" >0</text>
<text x="293.75" y="520.17" font-size="6.6" text-anchor="middle" font-weight="normal" fill="#3d3d3d" >11</text>
<text x="378.05" y="520.17" font-size="6.6" text-anchor="middle" font-weight="normal" fill="#3d3d3d" >11</text>
<text x="420.20" y="520.17" font-size="6.6" text-anchor="middle" font-weight="normal" fill="#3d3d3d" >9</text>
<text x="462.35" y="520.17" font-size="6.6" text-anchor="middle" font-weight="normal" fill="#3d3d3d" >4</text>
<text x="504.50" y="520.17" font-size="6.6" text-anchor="middle" font-weight="normal" fill="#3d3d3d" >0</text>
<text x="293.75" y="525.92" font-size="6.6" text-anchor="middle" font-weight="normal" fill="#3d3d3d" >10</text>
<text x="378.05" y="525.92" font-size="6.6" text-anchor="middle" font-weight="normal" fill="#3d3d3d" >10</text>
<text x="420.20" y="525.92" font-size="6.6" text-anchor="middle" font-weight="normal" fill="#3d3d3d" >8</text>
<text x="462.35" y="525.92" font-size="6.6" text-anchor="middle" font-weight="normal" fill="#3d3d3d" >3</text>
<text x="504.50" y="525.92" font-size="6.6" text-anchor="middle" font-weight="normal" fill="#3d3d3d" >0</text>
<text x="293.75" y="531.92" font-size="6.6" text-anchor="middle" font-weight="normal" fill="#3d3d3d" >6</text>
<text x="378.05" y="531.92" font-size="6.6" text-anchor="middle" font-weight="normal" fill="#3d3d3d" >6</text>
<text x="420.20" y="531.92" font-size="6.6" text-anchor="middle" font-weight="normal" fill="#3d3d3d" >5</text>
<text x="462.35" y="531.92" font-size="6.6" text-anchor="middle" font-weight="normal" fill="#3d3d3d" >0</text>
<text x="504.50" y="531.92" font-size="6.6" text-anchor="middle" font-weight="normal" fill="#3d3d3d" >0</text>
<text x="293.75" y="537.67" font-size="6.6" text-anchor="middle" font-weight="normal" fill="#3d3d3d" >4</text>
<text x="378.05" y="537.67" font-size="6.6" text-anchor="middle" font-weight="normal" fill="#3d3d3d" >4</text>
<text x="420.20" y="537.67" font-size="6.6" text-anchor="middle" font-weight="normal" fill="#3d3d3d" >0</text>
<text x="462.35" y="537.67" font-size="6.6" text-anchor="middle" font-weight="normal" fill="#3d3d3d" >0</text>
<text x="504.50" y="537.67" font-size="6.6" text-anchor="middle" font-weight="normal" fill="#3d3d3d" >0</text>
<path d="M293.30,379.40 H453.00 V384.90 H504.00" fill="none" stroke="#c92a4a" stroke-width="1.6"/>
<path d="M293.30,379.40 H448.00 V397.10 H459.00 V415.40 H490.70" fill="none" stroke="#36ac4a" stroke-width="1.7" stroke-dasharray="6.3 6.3" stroke-dashoffset="0"/>
<path d="M293.30,379.40 H492.00" fill="none" stroke="#713f98" stroke-width="1.7" stroke-dasharray="1.6 4.8" stroke-dashoffset="0"/>
<path d="M293.30,379.40 H405.90 V397.10 H422.00 V433.10 H449.50" fill="none" stroke="#f5861a" stroke-width="1.7" stroke-dasharray="1.6 4.8 6.4 4.8" stroke-dashoffset="2.0"/>
<path d="M293.30,379.40 H381.80 V405.90 H385.00 V433.10 H397.70 V460.20 H402.20 V487.10" fill="none" stroke="#1f5796" stroke-width="1.85" stroke-dasharray="11 5.2" stroke-dashoffset="0"/>
<line x1="294.80" y1="459.70" x2="309.00" y2="459.70" stroke="#c92a4a" stroke-width="1.6" />
<text x="313.10" y="462.21" font-size="6.28" fill="#3d3d3d" xml:space="preserve">MRD undetectable  (1 event/ 40 cases)</text>
<line x1="294.80" y1="466.30" x2="298.30" y2="466.30" stroke="#36ac4a" stroke-width="1.7" />
<line x1="305.50" y1="466.30" x2="309.00" y2="466.30" stroke="#36ac4a" stroke-width="1.7" />
<text x="313.10" y="468.81" font-size="6.28" fill="#3d3d3d" xml:space="preserve">Detectable up to 10<tspan font-size="4.2" dy="-2.5">−3</tspan><tspan dy="2.5">  (2 events/ 11 cases)</tspan></text>
<line x1="295.10" y1="473.20" x2="296.50" y2="473.20" stroke="#713f98" stroke-width="1.7" />
<line x1="301.40" y1="473.20" x2="302.80" y2="473.20" stroke="#713f98" stroke-width="1.7" />
<line x1="307.70" y1="473.20" x2="309.10" y2="473.20" stroke="#713f98" stroke-width="1.7" />
<text x="313.10" y="475.71" font-size="6.28" fill="#3d3d3d" xml:space="preserve">10<tspan font-size="4.2" dy="-2.5">−3</tspan><tspan dy="2.5"> – </tspan>10<tspan font-size="4.2" dy="-2.5">−2</tspan><tspan dy="2.5">  (0 events/ 10 cases)</tspan></text>
<line x1="294.80" y1="479.80" x2="296.20" y2="479.80" stroke="#f5861a" stroke-width="1.7" />
<line x1="300.80" y1="479.80" x2="306.60" y2="479.80" stroke="#f5861a" stroke-width="1.7" />
<text x="313.10" y="482.31" font-size="6.28" fill="#3d3d3d" xml:space="preserve">10<tspan font-size="4.2" dy="-2.5">−2</tspan><tspan dy="2.5"> – </tspan>10<tspan font-size="4.2" dy="-2.5">−1</tspan><tspan dy="2.5">  (3 events/ 6 cases)</tspan></text>
<line x1="294.80" y1="486.40" x2="305.20" y2="486.40" stroke="#1f5796" stroke-width="1.85" />
<text x="313.10" y="488.91" font-size="6.28" fill="#3d3d3d" xml:space="preserve">&gt;= 10<tspan font-size="4.2" dy="-2.5">−1</tspan><tspan dy="2.5">  (4 events/ 4 cases)</tspan></text>
<line x1="31.70" y1="552.00" x2="31.70" y2="670.30" stroke="#474747" stroke-width="1.6" />
<line x1="30.90" y1="669.50" x2="258.75" y2="669.50" stroke="#474747" stroke-width="1.7" />
<line x1="27.90" y1="556.60" x2="31.70" y2="556.60" stroke="#474747" stroke-width="1.2" />
<text x="23.40" y="556.60" font-size="6.3" text-anchor="middle" fill="#3d3d3d" transform="rotate(-90 23.40 556.60)" dy="2.2">1.0</text>
<line x1="27.90" y1="578.36" x2="31.70" y2="578.36" stroke="#474747" stroke-width="1.2" />
<text x="23.40" y="578.36" font-size="6.3" text-anchor="middle" fill="#3d3d3d" transform="rotate(-90 23.40 578.36)" dy="2.2">0.8</text>
<line x1="27.90" y1="600.12" x2="31.70" y2="600.12" stroke="#474747" stroke-width="1.2" />
<text x="23.40" y="600.12" font-size="6.3" text-anchor="middle" fill="#3d3d3d" transform="rotate(-90 23.40 600.12)" dy="2.2">0.6</text>
<line x1="27.90" y1="621.88" x2="31.70" y2="621.88" stroke="#474747" stroke-width="1.2" />
<text x="23.40" y="621.88" font-size="6.3" text-anchor="middle" fill="#3d3d3d" transform="rotate(-90 23.40 621.88)" dy="2.2">0.4</text>
<line x1="27.90" y1="643.64" x2="31.70" y2="643.64" stroke="#474747" stroke-width="1.2" />
<text x="23.40" y="643.64" font-size="6.3" text-anchor="middle" fill="#3d3d3d" transform="rotate(-90 23.40 643.64)" dy="2.2">0.2</text>
<line x1="27.90" y1="665.40" x2="31.70" y2="665.40" stroke="#474747" stroke-width="1.2" />
<text x="23.40" y="665.40" font-size="6.3" text-anchor="middle" fill="#3d3d3d" transform="rotate(-90 23.40 665.40)" dy="2.2">0.0</text>
<line x1="40.00" y1="669.50" x2="40.00" y2="673.00" stroke="#474747" stroke-width="1.2" />
<text x="40.00" y="680.64" font-size="6.5" text-anchor="middle" font-weight="normal" fill="#3d3d3d" >0</text>
<line x1="82.15" y1="669.50" x2="82.15" y2="673.00" stroke="#474747" stroke-width="1.2" />
<text x="82.15" y="680.64" font-size="6.5" text-anchor="middle" font-weight="normal" fill="#3d3d3d" >1</text>
<line x1="124.30" y1="669.50" x2="124.30" y2="673.00" stroke="#474747" stroke-width="1.2" />
<text x="124.30" y="680.64" font-size="6.5" text-anchor="middle" font-weight="normal" fill="#3d3d3d" >2</text>
<line x1="166.45" y1="669.50" x2="166.45" y2="673.00" stroke="#474747" stroke-width="1.2" />
<text x="166.45" y="680.64" font-size="6.5" text-anchor="middle" font-weight="normal" fill="#3d3d3d" >3</text>
<line x1="208.60" y1="669.50" x2="208.60" y2="673.00" stroke="#474747" stroke-width="1.2" />
<text x="208.60" y="680.64" font-size="6.5" text-anchor="middle" font-weight="normal" fill="#3d3d3d" >4</text>
<line x1="250.75" y1="669.50" x2="250.75" y2="673.00" stroke="#474747" stroke-width="1.2" />
<text x="250.75" y="680.64" font-size="6.5" text-anchor="middle" font-weight="normal" fill="#3d3d3d" >5</text>
<text x="12.50" y="611.20" font-size="10.5" text-anchor="middle" fill="#3d3d3d" transform="rotate(-90 12.50 611.20)" dy="3.6" textLength="36.5" lengthAdjust="spacingAndGlyphs">Probability</text>
<text x="7.60" y="548.13" font-size="12" text-anchor="start" font-weight="normal" fill="#111" stroke="#111" stroke-width="0.35">G</text>
<text x="92.00" y="552.67" font-size="9.8" font-weight="normal" fill="#222" stroke="#222" stroke-width="0.32" textLength="106.00" lengthAdjust="spacingAndGlyphs">FCR, MRD at 36 months</text>
<text x="145.25" y="690.15" font-size="10.5" text-anchor="middle" fill="#3d3d3d" textLength="18.5" lengthAdjust="spacingAndGlyphs">Years</text>
<text x="13.00" y="686.74" font-size="6.5" text-anchor="start" font-weight="normal" fill="#3d3d3d" >Number at risk</text>
<text x="40.00" y="693.92" font-size="6.6" text-anchor="middle" font-weight="normal" fill="#3d3d3d" >15</text>
<text x="166.45" y="693.92" font-size="6.6" text-anchor="middle" font-weight="normal" fill="#3d3d3d" >15</text>
<text x="208.60" y="693.92" font-size="6.6" text-anchor="middle" font-weight="normal" fill="#3d3d3d" >9</text>
<text x="250.75" y="693.92" font-size="6.6" text-anchor="middle" font-weight="normal" fill="#3d3d3d" >0</text>
<text x="40.00" y="700.17" font-size="6.6" text-anchor="middle" font-weight="normal" fill="#3d3d3d" >18</text>
<text x="166.45" y="700.17" font-size="6.6" text-anchor="middle" font-weight="normal" fill="#3d3d3d" >18</text>
<text x="208.60" y="700.17" font-size="6.6" text-anchor="middle" font-weight="normal" fill="#3d3d3d" >8</text>
<text x="250.75" y="700.17" font-size="6.6" text-anchor="middle" font-weight="normal" fill="#3d3d3d" >0</text>
<path d="M39.80,556.30 H250.60" fill="none" stroke="#c92a4a" stroke-width="1.6"/>
<path d="M39.80,556.30 H168.30 V562.20 H172.00 V568.20 H194.20 V576.60 H205.30 V586.40 H241.80" fill="none" stroke="#1f5796" stroke-width="1.7" stroke-dasharray="6 6.7" stroke-dashoffset="0"/>
<line x1="44.30" y1="650.20" x2="55.50" y2="650.20" stroke="#c92a4a" stroke-width="1.6" />
<text x="58.20" y="652.48" font-size="5.6" fill="#3d3d3d" xml:space="preserve">MRD undetectable  (0 events/ 15 cases)</text>
<line x1="44.30" y1="656.80" x2="50.10" y2="656.80" stroke="#1f5796" stroke-width="1.7" />
<text x="58.20" y="659.08" font-size="5.6" fill="#3d3d3d" xml:space="preserve">MRD detectable  (4 events/ 18 cases)</text>
<text x="40.00" y="623.79" font-size="5.5" fill="#3d3d3d"><tspan font-style="italic">P</tspan> = 0.063</text>
<text x="40.00" y="628.89" font-size="5.5" text-anchor="start" font-weight="normal" fill="#3d3d3d" >HR &gt; 100, (95% CI: 0.00 – Inf)</text>
<line x1="285.40" y1="552.00" x2="285.40" y2="670.10" stroke="#474747" stroke-width="1.6" />
<line x1="284.60" y1="669.30" x2="511.80" y2="669.30" stroke="#474747" stroke-width="1.7" />
<line x1="281.60" y1="556.60" x2="285.40" y2="556.60" stroke="#474747" stroke-width="1.2" />
<text x="277.10" y="556.60" font-size="6.3" text-anchor="middle" fill="#3d3d3d" transform="rotate(-90 277.10 556.60)" dy="2.2">1.0</text>
<line x1="281.60" y1="578.36" x2="285.40" y2="578.36" stroke="#474747" stroke-width="1.2" />
<text x="277.10" y="578.36" font-size="6.3" text-anchor="middle" fill="#3d3d3d" transform="rotate(-90 277.10 578.36)" dy="2.2">0.8</text>
<line x1="281.60" y1="600.12" x2="285.40" y2="600.12" stroke="#474747" stroke-width="1.2" />
<text x="277.10" y="600.12" font-size="6.3" text-anchor="middle" fill="#3d3d3d" transform="rotate(-90 277.10 600.12)" dy="2.2">0.6</text>
<line x1="281.60" y1="621.88" x2="285.40" y2="621.88" stroke="#474747" stroke-width="1.2" />
<text x="277.10" y="621.88" font-size="6.3" text-anchor="middle" fill="#3d3d3d" transform="rotate(-90 277.10 621.88)" dy="2.2">0.4</text>
<line x1="281.60" y1="643.64" x2="285.40" y2="643.64" stroke="#474747" stroke-width="1.2" />
<text x="277.10" y="643.64" font-size="6.3" text-anchor="middle" fill="#3d3d3d" transform="rotate(-90 277.10 643.64)" dy="2.2">0.2</text>
<line x1="281.60" y1="665.40" x2="285.40" y2="665.40" stroke="#474747" stroke-width="1.2" />
<text x="277.10" y="665.40" font-size="6.3" text-anchor="middle" fill="#3d3d3d" transform="rotate(-90 277.10 665.40)" dy="2.2">0.0</text>
<line x1="293.75" y1="669.30" x2="293.75" y2="672.80" stroke="#474747" stroke-width="1.2" />
<text x="293.75" y="680.64" font-size="6.5" text-anchor="middle" font-weight="normal" fill="#3d3d3d" >0</text>
<line x1="335.90" y1="669.30" x2="335.90" y2="672.80" stroke="#474747" stroke-width="1.2" />
<text x="335.90" y="680.64" font-size="6.5" text-anchor="middle" font-weight="normal" fill="#3d3d3d" >1</text>
<line x1="378.05" y1="669.30" x2="378.05" y2="672.80" stroke="#474747" stroke-width="1.2" />
<text x="378.05" y="680.64" font-size="6.5" text-anchor="middle" font-weight="normal" fill="#3d3d3d" >2</text>
<line x1="420.20" y1="669.30" x2="420.20" y2="672.80" stroke="#474747" stroke-width="1.2" />
<text x="420.20" y="680.64" font-size="6.5" text-anchor="middle" font-weight="normal" fill="#3d3d3d" >3</text>
<line x1="462.35" y1="669.30" x2="462.35" y2="672.80" stroke="#474747" stroke-width="1.2" />
<text x="462.35" y="680.64" font-size="6.5" text-anchor="middle" font-weight="normal" fill="#3d3d3d" >4</text>
<line x1="504.50" y1="669.30" x2="504.50" y2="672.80" stroke="#474747" stroke-width="1.2" />
<text x="504.50" y="680.64" font-size="6.5" text-anchor="middle" font-weight="normal" fill="#3d3d3d" >5</text>
<text x="266.20" y="611.20" font-size="10.5" text-anchor="middle" fill="#3d3d3d" transform="rotate(-90 266.20 611.20)" dy="3.6" textLength="36.5" lengthAdjust="spacingAndGlyphs">Probability</text>
<text x="261.40" y="548.03" font-size="12" text-anchor="start" font-weight="normal" fill="#111" stroke="#111" stroke-width="0.35">H</text>
<text x="345.80" y="552.67" font-size="9.8" font-weight="normal" fill="#222" stroke="#222" stroke-width="0.32" textLength="106.10" lengthAdjust="spacingAndGlyphs">FCR, MRD at 36 months</text>
<text x="399.00" y="690.15" font-size="10.5" text-anchor="middle" fill="#3d3d3d" textLength="18.5" lengthAdjust="spacingAndGlyphs">Years</text>
<text x="267.00" y="685.99" font-size="6.5" text-anchor="start" font-weight="normal" fill="#3d3d3d" >Number at risk</text>
<text x="293.75" y="693.17" font-size="6.6" text-anchor="middle" font-weight="normal" fill="#3d3d3d" >15</text>
<text x="420.20" y="693.17" font-size="6.6" text-anchor="middle" font-weight="normal" fill="#3d3d3d" >15</text>
<text x="462.35" y="693.17" font-size="6.6" text-anchor="middle" font-weight="normal" fill="#3d3d3d" >9</text>
<text x="504.50" y="693.17" font-size="6.6" text-anchor="middle" font-weight="normal" fill="#3d3d3d" >0</text>
<text x="293.75" y="698.92" font-size="6.6" text-anchor="middle" font-weight="normal" fill="#3d3d3d" >4</text>
<text x="420.20" y="698.92" font-size="6.6" text-anchor="middle" font-weight="normal" fill="#3d3d3d" >4</text>
<text x="462.35" y="698.92" font-size="6.6" text-anchor="middle" font-weight="normal" fill="#3d3d3d" >3</text>
<text x="504.50" y="698.92" font-size="6.6" text-anchor="middle" font-weight="normal" fill="#3d3d3d" >0</text>
<text x="293.75" y="704.42" font-size="6.6" text-anchor="middle" font-weight="normal" fill="#3d3d3d" >3</text>
<text x="420.20" y="704.42" font-size="6.6" text-anchor="middle" font-weight="normal" fill="#3d3d3d" >3</text>
<text x="462.35" y="704.42" font-size="6.6" text-anchor="middle" font-weight="normal" fill="#3d3d3d" >2</text>
<text x="504.50" y="704.42" font-size="6.6" text-anchor="middle" font-weight="normal" fill="#3d3d3d" >0</text>
<text x="293.75" y="710.17" font-size="6.6" text-anchor="middle" font-weight="normal" fill="#3d3d3d" >9</text>
<text x="420.20" y="710.17" font-size="6.6" text-anchor="middle" font-weight="normal" fill="#3d3d3d" >9</text>
<text x="462.35" y="710.17" font-size="6.6" text-anchor="middle" font-weight="normal" fill="#3d3d3d" >3</text>
<text x="504.50" y="710.17" font-size="6.6" text-anchor="middle" font-weight="normal" fill="#3d3d3d" >0</text>
<text x="293.75" y="715.92" font-size="6.6" text-anchor="middle" font-weight="normal" fill="#3d3d3d" >2</text>
<text x="420.20" y="715.92" font-size="6.6" text-anchor="middle" font-weight="normal" fill="#3d3d3d" >2</text>
<text x="462.35" y="715.92" font-size="6.6" text-anchor="middle" font-weight="normal" fill="#3d3d3d" >0</text>
<text x="504.50" y="715.92" font-size="6.6" text-anchor="middle" font-weight="normal" fill="#3d3d3d" >0</text>
<path d="M293.30,556.50 H504.00" fill="none" stroke="#c92a4a" stroke-width="1.6"/>
<path d="M293.30,556.50 H504.00" fill="none" stroke="#36ac4a" stroke-width="1.7" stroke-dasharray="6.3 6.3" stroke-dashoffset="0"/>
<path d="M293.30,556.50 H504.00" fill="none" stroke="#713f98" stroke-width="1.7" stroke-dasharray="1.6 4.8" stroke-dashoffset="0"/>
<path d="M293.30,556.50 H448.20 V574.40 H459.70 V597.40 H481.50" fill="none" stroke="#f5861a" stroke-width="1.7" stroke-dasharray="1.6 4.8 6.4 4.8" stroke-dashoffset="2.0"/>
<path d="M293.30,556.50 H422.50 V610.90 H425.80 V664.90" fill="none" stroke="#1f5796" stroke-width="1.85" stroke-dasharray="11 5.2" stroke-dashoffset="0"/>
<line x1="298.10" y1="637.20" x2="309.00" y2="637.20" stroke="#c92a4a" stroke-width="1.6" />
<text x="313.10" y="639.48" font-size="5.6" fill="#3d3d3d" xml:space="preserve">MRD undetectable  (0 events/ 15 cases)</text>
<line x1="298.10" y1="644.10" x2="301.60" y2="644.10" stroke="#36ac4a" stroke-width="1.7" />
<line x1="305.50" y1="644.10" x2="309.00" y2="644.10" stroke="#36ac4a" stroke-width="1.7" />
<text x="313.10" y="646.38" font-size="5.6" fill="#3d3d3d" xml:space="preserve">Detectable up to 10<tspan font-size="4.2" dy="-2.5">−3</tspan><tspan dy="2.5">  (0 events/ 4 cases)</tspan></text>
<line x1="298.40" y1="651.00" x2="299.80" y2="651.00" stroke="#713f98" stroke-width="1.7" />
<line x1="304.70" y1="651.00" x2="306.10" y2="651.00" stroke="#713f98" stroke-width="1.7" />
<text x="313.10" y="653.28" font-size="5.6" fill="#3d3d3d" xml:space="preserve">10<tspan font-size="4.2" dy="-2.5">−3</tspan><tspan dy="2.5"> – </tspan>10<tspan font-size="4.2" dy="-2.5">−2</tspan><tspan dy="2.5">  (0 events/ 3 cases)</tspan></text>
<line x1="298.10" y1="657.50" x2="299.50" y2="657.50" stroke="#f5861a" stroke-width="1.7" />
<line x1="304.10" y1="657.50" x2="309.00" y2="657.50" stroke="#f5861a" stroke-width="1.7" />
<text x="313.10" y="659.78" font-size="5.6" fill="#3d3d3d" xml:space="preserve">10<tspan font-size="4.2" dy="-2.5">−2</tspan><tspan dy="2.5"> – </tspan>10<tspan font-size="4.2" dy="-2.5">−1</tspan><tspan dy="2.5">  (2 events/ 9 cases)</tspan></text>
<line x1="298.10" y1="664.00" x2="308.50" y2="664.00" stroke="#1f5796" stroke-width="1.85" />
<text x="313.10" y="666.28" font-size="5.6" fill="#3d3d3d" xml:space="preserve">&gt;= 10<tspan font-size="4.2" dy="-2.5">−1</tspan><tspan dy="2.5">  (2 events/ 2 cases)</tspan></text>
<rect x="0" y="0" width="520" height="1.2" fill="#111"/><rect x="0" y="0" width="1.2" height="725" fill="#111"/><rect x="518.8" y="0" width="1.2" height="725" fill="#111"/><rect x="0" y="723.3" width="520" height="1.7" fill="#111"/>
</svg></body></html>
